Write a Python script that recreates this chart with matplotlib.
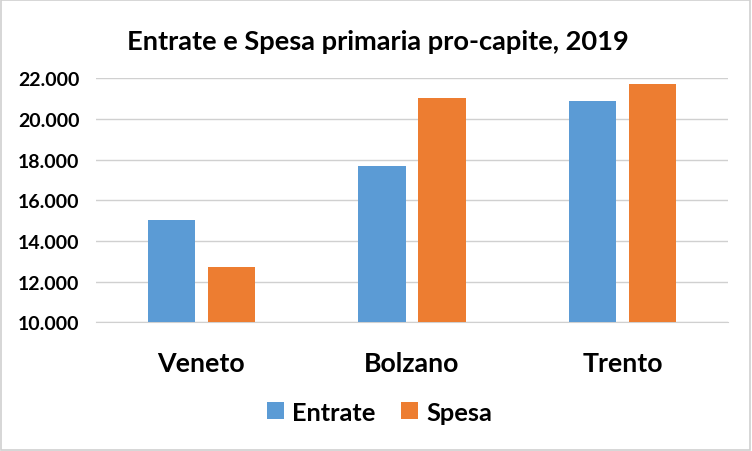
import matplotlib
matplotlib.use("Agg")
import matplotlib.pyplot as plt
from matplotlib.patches import Rectangle
import numpy as np

categories = ["Veneto", "Bolzano", "Trento"]
entrate = [15030, 17690, 20890]
spesa = [12720, 21030, 21720]
yticks = [10000, 12000, 14000, 16000, 18000, 20000, 22000]
ytick_labels = ["10.000", "12.000", "14.000", "16.000", "18.000", "20.000", "22.000"]
title = "Entrate e Spesa primaria pro-capite, 2019"

plt.rcParams['font.family'] = ['Lato', 'DejaVu Sans']
plt.rcParams['font.weight'] = 'bold'

fig = plt.figure(figsize=(7.52, 4.52), dpi=100)
fig.patches.append(Rectangle((0.001, 0.002), 0.997, 0.995, transform=fig.transFigure,
                             fill=False, edgecolor='#d0d0d0', linewidth=1.2))
ax = fig.add_axes([96/752, 1 - 323.3/452, (728-96)/752, (323.3-79.3)/452])

x = np.arange(len(categories))
w = 0.225
off = 0.143
ax.bar(x - off, entrate, w, color='#5B9BD5', label='Entrate', zorder=3)
ax.bar(x + off, spesa, w, color='#ED7D31', label='Spesa', zorder=3)

ax.set_xlim(-0.5, 2.5)
ax.set_ylim(10000, 22000)
ax.set_yticks(yticks)
ax.set_yticklabels(ytick_labels, fontsize=14.0, fontweight='bold')
ax.set_xticks(x)
ax.set_xticklabels(categories, fontsize=19.3, fontweight='bold')
ax.tick_params(axis='both', length=0)
ax.tick_params(axis='y', pad=12)
ax.tick_params(axis='x', pad=21)
ax.grid(axis='y', color='#d0d0d0', linewidth=1, zorder=0)
for s in ['top', 'right', 'left']:
    ax.spines[s].set_visible(False)
ax.spines['bottom'].set_color('#d0d0d0')

fig.text(0.503, 0.907, title, ha='center', va='center', fontsize=19.6, fontweight='bold')
leg = fig.legend(loc='center', bbox_to_anchor=(0.505, 0.086), ncol=2, frameon=False,
                 prop={'size': 18.3, 'weight': 'bold'}, handlelength=0.65, handleheight=0.65,
                 columnspacing=1.0, handletextpad=0.35)
fig.savefig("out.png", dpi=100)
